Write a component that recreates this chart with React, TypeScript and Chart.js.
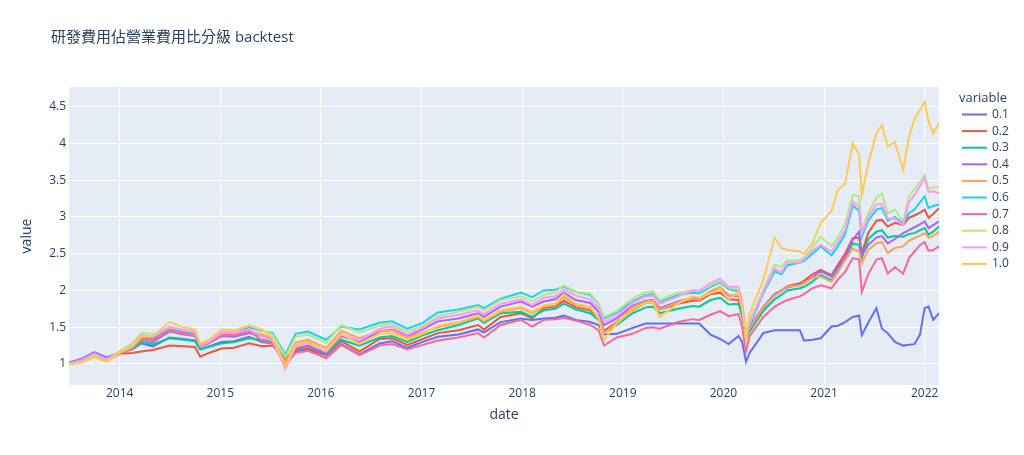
import React, { useEffect, useRef } from "react";
import { Chart, registerables } from "chart.js";

Chart.register(...registerables);

const titleText = "研發費用佔營業費用比分級 backtest";
const xAxisTitle = "date";
const yAxisTitle = "value";
const legendTitle = "variable";

const dates = [
  "2013-07-01","2013-08-15","2013-10-01","2013-11-15","2014-01-02","2014-02-15","2014-03-20","2014-05-01","2014-07-01","2014-08-20",
  "2014-10-01","2014-10-20","2014-11-20","2015-01-05","2015-02-20","2015-04-15","2015-06-01","2015-07-10","2015-08-25","2015-10-01",
  "2015-11-15","2016-01-20","2016-03-15","2016-05-20","2016-08-01","2016-09-15","2016-11-10","2017-01-05","2017-03-01","2017-05-15",
  "2017-07-25","2017-08-15","2017-10-15","2017-12-28","2018-02-06","2018-03-20","2018-05-01","2018-06-01","2018-07-15","2018-09-05",
  "2018-10-05","2018-10-25","2018-12-10","2019-02-05","2019-03-25","2019-04-20","2019-05-15","2019-07-20","2019-09-10","2019-10-05",
  "2019-11-15","2019-12-20","2020-01-20","2020-02-25","2020-03-09","2020-03-23","2020-04-05","2020-05-25","2020-07-05","2020-07-30",
  "2020-08-20","2020-10-05","2020-10-20","2020-11-20","2020-12-20","2021-01-28","2021-02-20","2021-03-18","2021-04-15","2021-05-08",
  "2021-05-18","2021-06-10","2021-07-10","2021-07-30","2021-08-20","2021-09-15","2021-10-15","2021-11-05","2021-11-25","2021-12-15",
  "2022-01-01","2022-01-15","2022-02-01","2022-02-22",
];

const s01 = [
  1.01,1.06,1.15,1.08,1.15,1.20,1.28,1.24,1.36,1.34,
  1.32,1.20,1.24,1.30,1.31,1.37,1.30,1.28,1.03,1.16,
  1.20,1.08,1.27,1.13,1.28,1.31,1.22,1.30,1.37,1.40,
  1.47,1.43,1.57,1.62,1.60,1.62,1.63,1.66,1.60,1.57,
  1.53,1.40,1.41,1.49,1.55,1.55,1.55,1.55,1.55,1.55,
  1.40,1.34,1.27,1.38,1.30,1.03,1.15,1.42,1.46,1.46,
  1.46,1.46,1.32,1.33,1.35,1.51,1.52,1.57,1.64,1.66,
  1.39,1.56,1.76,1.48,1.42,1.30,1.25,1.26,1.27,1.40,
  1.76,1.78,1.60,1.69,
];
const s02 = [
  1.00,1.03,1.12,1.06,1.14,1.15,1.17,1.19,1.25,1.24,
  1.23,1.10,1.15,1.21,1.22,1.28,1.24,1.25,1.08,1.19,
  1.21,1.12,1.31,1.17,1.34,1.35,1.26,1.34,1.42,1.46,
  1.53,1.47,1.64,1.69,1.62,1.76,1.78,1.86,1.77,1.73,
  1.63,1.45,1.57,1.73,1.83,1.84,1.74,1.82,1.86,1.86,
  1.95,1.97,1.88,1.87,1.70,1.38,1.47,1.76,1.94,2.00,
  2.06,2.10,2.13,2.22,2.28,2.21,2.35,2.50,2.71,2.72,
  2.51,2.78,2.95,2.96,2.87,2.92,2.89,2.99,3.02,3.06,
  3.10,2.99,3.04,3.12,
];
const s03 = [
  1.00,1.04,1.13,1.07,1.15,1.21,1.30,1.27,1.35,1.33,
  1.31,1.20,1.23,1.28,1.30,1.35,1.33,1.30,1.06,1.20,
  1.24,1.13,1.33,1.25,1.36,1.38,1.30,1.39,1.46,1.53,
  1.62,1.56,1.69,1.71,1.64,1.73,1.75,1.82,1.74,1.69,
  1.60,1.43,1.53,1.69,1.77,1.78,1.69,1.75,1.79,1.78,
  1.87,1.90,1.81,1.82,1.65,1.35,1.44,1.72,1.88,1.94,
  2.00,2.03,2.05,2.12,2.21,2.14,2.28,2.43,2.64,2.62,
  2.44,2.70,2.80,2.82,2.72,2.74,2.73,2.77,2.78,2.82,
  2.85,2.76,2.80,2.87,
];
const s04 = [
  1.02,1.07,1.16,1.09,1.16,1.21,1.33,1.30,1.44,1.40,
  1.38,1.24,1.28,1.38,1.37,1.42,1.38,1.33,1.04,1.21,
  1.25,1.14,1.38,1.30,1.44,1.47,1.38,1.47,1.58,1.62,
  1.69,1.64,1.78,1.85,1.78,1.85,1.88,1.97,1.87,1.83,
  1.71,1.53,1.62,1.79,1.86,1.87,1.76,1.85,1.90,1.89,
  1.98,2.04,1.93,1.92,1.73,1.38,1.50,1.78,1.95,2.00,
  2.04,2.08,2.10,2.18,2.26,2.19,2.32,2.45,2.69,2.80,
  2.48,2.62,2.72,2.74,2.64,2.70,2.78,2.82,2.86,2.90,
  2.94,2.85,2.89,2.94,
];
const s05 = [
  1.00,1.02,1.10,1.04,1.14,1.22,1.34,1.33,1.46,1.42,
  1.39,1.25,1.29,1.40,1.40,1.45,1.40,1.35,1.02,1.29,
  1.33,1.22,1.45,1.35,1.45,1.46,1.36,1.43,1.50,1.56,
  1.64,1.58,1.71,1.76,1.69,1.78,1.80,1.91,1.80,1.76,
  1.64,1.42,1.56,1.77,1.85,1.86,1.74,1.84,1.89,1.87,
  1.99,2.05,1.94,1.93,1.74,1.36,1.48,1.77,1.93,1.99,
  2.05,2.07,2.10,2.17,2.19,2.12,2.25,2.41,2.57,2.53,
  2.37,2.55,2.64,2.66,2.51,2.58,2.60,2.68,2.71,2.75,
  2.78,2.72,2.74,2.80,
];
const s06 = [
  1.01,1.05,1.14,1.07,1.16,1.25,1.37,1.35,1.48,1.44,
  1.41,1.27,1.31,1.42,1.42,1.50,1.45,1.42,1.13,1.41,
  1.44,1.33,1.51,1.47,1.56,1.58,1.48,1.56,1.70,1.74,
  1.80,1.76,1.89,1.97,1.91,2.00,2.01,2.05,1.98,1.94,
  1.82,1.62,1.70,1.85,1.94,1.95,1.84,1.94,1.97,1.96,
  2.05,2.11,2.02,1.99,1.80,1.40,1.52,1.96,2.26,2.22,
  2.34,2.38,2.40,2.50,2.60,2.48,2.60,2.76,3.16,3.08,
  2.73,2.95,3.10,3.12,2.95,3.00,2.91,3.05,3.10,3.20,
  3.28,3.12,3.15,3.17,
];
const s07 = [
  1.00,1.04,1.12,1.05,1.15,1.24,1.35,1.33,1.46,1.42,
  1.40,1.24,1.29,1.40,1.39,1.45,1.32,1.28,0.98,1.15,
  1.18,1.08,1.26,1.12,1.25,1.27,1.20,1.26,1.32,1.36,
  1.42,1.36,1.53,1.60,1.51,1.60,1.61,1.63,1.59,1.53,
  1.46,1.25,1.36,1.41,1.49,1.50,1.48,1.57,1.61,1.60,
  1.67,1.72,1.65,1.68,1.50,1.17,1.38,1.64,1.78,1.83,
  1.87,1.92,1.95,2.03,2.07,2.03,2.15,2.25,2.44,2.42,
  1.98,2.22,2.42,2.44,2.23,2.32,2.23,2.44,2.53,2.62,
  2.66,2.54,2.55,2.60,
];
const s08 = [
  1.00,1.04,1.12,1.06,1.18,1.28,1.42,1.41,1.50,1.47,
  1.44,1.27,1.33,1.45,1.44,1.53,1.46,1.40,1.10,1.37,
  1.40,1.29,1.53,1.43,1.52,1.54,1.44,1.52,1.65,1.71,
  1.78,1.73,1.87,1.92,1.85,1.94,1.97,2.07,1.98,1.96,
  1.82,1.64,1.72,1.89,1.98,1.99,1.87,1.97,2.00,1.99,
  2.07,2.13,2.04,2.01,1.82,1.40,1.58,2.01,2.35,2.32,
  2.41,2.41,2.45,2.58,2.73,2.60,2.72,2.90,3.30,3.28,
  2.82,3.05,3.26,3.32,3.05,3.10,2.94,3.28,3.38,3.48,
  3.57,3.38,3.40,3.41,
];
const s09 = [
  1.00,1.05,1.14,1.06,1.16,1.25,1.39,1.37,1.51,1.46,
  1.44,1.25,1.30,1.42,1.42,1.47,1.37,1.32,0.93,1.24,
  1.28,1.17,1.40,1.32,1.48,1.51,1.40,1.49,1.62,1.67,
  1.73,1.68,1.82,1.88,1.80,1.90,1.92,2.01,1.93,1.88,
  1.76,1.57,1.66,1.83,1.92,1.93,1.82,1.92,2.00,2.00,
  2.10,2.16,2.05,2.05,1.85,1.42,1.55,1.98,2.30,2.25,
  2.38,2.38,2.42,2.54,2.62,2.53,2.66,2.82,3.21,3.15,
  2.77,3.00,3.17,3.18,2.98,2.98,2.89,3.20,3.30,3.42,
  3.53,3.34,3.35,3.32,
];
const s10 = [
  1.00,1.02,1.09,1.03,1.16,1.24,1.37,1.38,1.57,1.50,
  1.47,1.28,1.32,1.47,1.46,1.52,1.47,1.35,0.97,1.26,
  1.30,1.18,1.41,1.27,1.41,1.42,1.33,1.41,1.52,1.57,
  1.66,1.60,1.73,1.78,1.71,1.80,1.82,1.95,1.82,1.78,
  1.62,1.33,1.55,1.74,1.83,1.84,1.64,1.82,1.92,1.90,
  1.96,2.02,1.88,1.98,1.78,1.33,1.69,2.14,2.72,2.58,
  2.55,2.53,2.50,2.64,2.92,3.08,3.37,3.45,4.00,3.85,
  3.30,3.72,4.14,4.25,3.96,4.02,3.64,4.09,4.33,4.46,
  4.57,4.30,4.14,4.27,
];

const seriesNames = ["0.1", "0.2", "0.3", "0.4", "0.5", "0.6", "0.7", "0.8", "0.9", "1.0"];
const seriesValues = [s01, s02, s03, s04, s05, s06, s07, s08, s09, s10];
const seriesColors = ["#636efa", "#EF553B", "#00cc96", "#ab63fa", "#FFA15A", "#19d3f3", "#FF6692", "#B6E880", "#FF97FF", "#FECB52"];

const xTickYears = [2014, 2015, 2016, 2017, 2018, 2019, 2020, 2021, 2022];
const yTickValues = [1, 1.5, 2, 2.5, 3, 3.5, 4, 4.5];
const yMin = 0.714;
const yMax = 4.768;

const FONT = '"Open Sans", "Noto Sans CJK TC", "Noto Sans CJK SC", sans-serif';
const TEXT = "#2a3f5f";

function toYear(s: string): number {
  const [y, m, d] = s.split("-").map(Number);
  const start = Date.UTC(y, 0, 1);
  const len = Date.UTC(y + 1, 0, 1) - start;
  return y + (Date.UTC(y, m - 1, d) - start) / len;
}

const xs = dates.map(toYear);
const xMin = xs[0];
const xMax = xs[xs.length - 1];

const decorPlugin = {
  id: "plotlyDecor",
  beforeDraw(chart: any) {
    const { ctx, chartArea } = chart;
    ctx.save();
    ctx.fillStyle = "#ffffff";
    ctx.fillRect(0, 0, chart.width, chart.height);
    ctx.fillStyle = "#E5ECF6";
    ctx.fillRect(chartArea.left, chartArea.top, chartArea.right - chartArea.left, chartArea.bottom - chartArea.top);
    ctx.restore();
  },
  afterDraw(chart: any) {
    const { ctx, chartArea } = chart;
    ctx.save();
    ctx.fillStyle = TEXT;
    // title
    ctx.font = `15px ${FONT}`;
    ctx.textAlign = "left";
    ctx.textBaseline = "middle";
    ctx.fillText(titleText, 51, 38);
    // axis titles
    ctx.font = `14px ${FONT}`;
    ctx.textAlign = "center";
    ctx.fillText(xAxisTitle, (chartArea.left + chartArea.right) / 2, 415);
    ctx.save();
    ctx.translate(27, (chartArea.top + chartArea.bottom) / 2);
    ctx.rotate(-Math.PI / 2);
    ctx.fillText(yAxisTitle, 0, 0);
    ctx.restore();
    // legend
    ctx.textAlign = "left";
    ctx.font = `13px ${FONT}`;
    ctx.fillText(legendTitle, 959, 98);
    ctx.font = `12px ${FONT}`;
    seriesNames.forEach((name, i) => {
      const y = 114.5 + i * 16.6;
      ctx.strokeStyle = seriesColors[i];
      ctx.lineWidth = 2;
      ctx.beginPath();
      ctx.moveTo(962, y);
      ctx.lineTo(987, y);
      ctx.stroke();
      ctx.fillStyle = TEXT;
      ctx.fillText(name, 992, y);
    });
    ctx.restore();
  },
};

export default function App() {
  const ref = useRef<HTMLCanvasElement>(null);
  useEffect(() => {
    document.body.style.margin = "0";
    const canvas = ref.current;
    if (!canvas) return;
    const datasets = seriesNames.map((name, i) => ({
      label: name,
      data: xs.map((x, j) => ({ x, y: seriesValues[i][j] })),
      borderColor: seriesColors[i],
      backgroundColor: seriesColors[i],
      borderWidth: 2,
      pointRadius: 0,
      tension: 0,
      fill: false,
      order: seriesNames.length - i,
    }));
    const chart = new Chart(canvas, {
      type: "line",
      data: { datasets },
      plugins: [decorPlugin],
      options: {
        animation: false,
        responsive: false,
        maintainAspectRatio: false,
        layout: { padding: { left: 0, right: 85, top: 87, bottom: 0 } },
        plugins: {
          legend: { display: false },
          title: { display: false },
          tooltip: { enabled: false },
        },
        scales: {
          x: {
            type: "linear",
            min: xMin,
            max: xMax,
            afterBuildTicks: (s: any) => {
              s.ticks = xTickYears.map((v) => ({ value: v }));
            },
            afterFit: (s: any) => {
              s.height = 70;
            },
            ticks: {
              callback: (v: any) => String(v),
              color: TEXT,
              font: { family: FONT, size: 12 },
              padding: 1,
              maxRotation: 0,
              autoSkip: false,
            },
            grid: { color: "#ffffff", lineWidth: 1, drawTicks: false },
            border: { display: false },
          },
          y: {
            type: "linear",
            min: yMin,
            max: yMax,
            afterBuildTicks: (s: any) => {
              s.ticks = yTickValues.map((v) => ({ value: v }));
            },
            afterFit: (s: any) => {
              s.width = 69;
            },
            ticks: {
              callback: (v: any) => String(v),
              color: TEXT,
              font: { family: FONT, size: 12 },
              padding: 3,
            },
            grid: { color: "#ffffff", lineWidth: 1, drawTicks: false },
            border: { display: false },
          },
        },
      },
    } as any);
    return () => chart.destroy();
  }, []);
  return (
    <div style={{ width: 1024, height: 455, background: "#ffffff" }}>
      <canvas ref={ref} width={1024} height={455} style={{ display: "block" }} />
    </div>
  );
}
